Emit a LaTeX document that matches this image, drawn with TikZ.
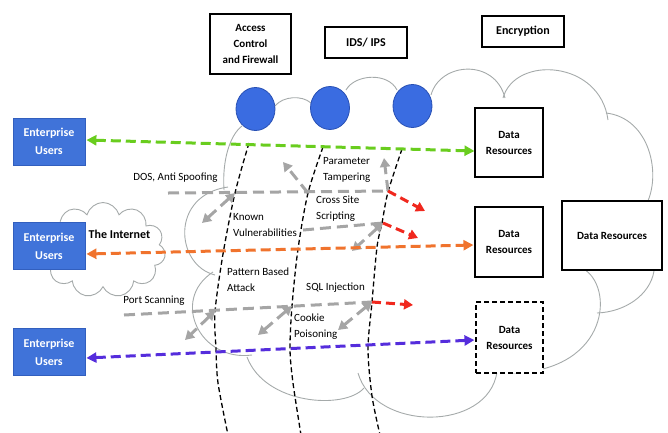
\documentclass[tikz,border=0pt]{standalone}
\usepackage{fontspec}
\setmainfont{Carlito}
\usetikzlibrary{arrows.meta,calc,shapes.symbols,shapes.geometric}
\definecolor{entblue}{RGB}{64,115,217}
\definecolor{entedge}{RGB}{50,95,190}
\definecolor{circblue}{RGB}{58,108,225}
\definecolor{circedge}{RGB}{40,80,180}
\definecolor{cloudgray}{RGB}{165,170,170}
\definecolor{arrgray}{RGB}{165,165,165}
\definecolor{arrgreen}{RGB}{105,205,30}
\definecolor{arrorange}{RGB}{240,115,45}
\definecolor{arrpurple}{RGB}{85,45,220}
\definecolor{arrred}{RGB}{240,40,30}
\begin{document}
\begin{tikzpicture}[x=1pt,y=-1pt,
  entbox/.style={draw=entedge, fill=entblue, text=white, line width=0.8pt,
    font=\fontsize{12}{18}\selectfont\bfseries, align=center,
    minimum width=72pt, minimum height=47pt, inner sep=0pt},
  databox/.style={draw, line width=1.1pt, fill=white,
    font=\fontsize{11}{16}\selectfont\bfseries, align=center, inner sep=0pt},
  topbox/.style={draw, line width=1.1pt, fill=white, align=center, inner sep=0pt},
  fw/.style={draw=circedge, fill=circblue, ellipse, line width=0.8pt,
    minimum width=39pt, minimum height=43pt, inner sep=0pt},
  cloudline/.style={draw=cloudgray, line width=0.9pt},
  lbl/.style={font=\fontsize{11}{16}\selectfont, align=left, inner sep=0pt},
  zone/.style={draw=black, line width=1.3pt, dash pattern=on 5pt off 3pt},
  gray arrow/.style={draw=arrgray, line width=3pt, dash pattern=on 11pt off 6pt,
    -{Triangle[length=9pt,width=10pt]}},
  gray line/.style={draw=arrgray, line width=3pt, dash pattern=on 11pt off 6pt},
  red arrow/.style={draw=arrred, line width=3pt, dash pattern=on 9pt off 5pt,
    -{Triangle[length=9pt,width=10pt]}},
  flow/.style={line width=3pt, dash pattern=on 10pt off 5pt,
    {Triangle[length=10pt,width=10pt]}-{Triangle[length=10pt,width=10pt]}}
]
\useasboundingbox (0,0) rectangle (668,432);

% ---- big cloud
\draw[cloudline] (275,106) .. controls (283,96) and (302,95) .. (311,103);
\draw[cloudline] (346,90) .. controls (355,74) and (388,72) .. (397,90);
\draw[cloudline] (431,95) .. controls (440,62) and (495,58) .. (505,98);
\draw[cloudline] (503,98) .. controls (515,55) and (600,60) .. (608,120);
\draw[cloudline] (606,113) .. controls (650,118) and (662,175) .. (646,205);
\draw[cloudline] (654,271) .. controls (650,295) and (625,312) .. (597,313);
\draw[cloudline] (582,268) .. controls (615,285) and (610,370) .. (513,373);
\draw[cloudline] (497,372) .. controls (488,432) and (375,432) .. (358,373);
\draw[cloudline] (364,388) .. controls (345,410) and (265,405) .. (247,357);
\draw[cloudline] (252,355) .. controls (200,362) and (170,300) .. (213,272);
\draw[cloudline] (215,275) .. controls (175,265) and (170,195) .. (228,187);
\draw[cloudline] (224,190) .. controls (222,160) and (230,135) .. (242,126);

% ---- internet cloud
\node[cloud, cloud puffs=11, cloudline, minimum width=125pt, minimum height=95pt] (inet) at (103,250) {};

% ---- zone lines
\draw[zone] plot[smooth] coordinates {(249,143) (235,193) (223,254) (215,312) (216,349) (218,383) (228,435)};
\draw[zone] plot[smooth] coordinates {(323,147) (308,193) (298,249) (292,306) (290,349) (293,383) (301,435)};
\draw[zone] plot[smooth] coordinates {(402,149) (388,192) (382,223) (377,247) (372,302) (368,349) (372,396) (380,435)};

% ---- top boxes and firewall points
\node[topbox, minimum width=81pt, minimum height=60pt, font=\fontsize{11}{16}\selectfont\bfseries] (acf) at (250.5,44) {Access\\Control\\and Firewall};
\node[topbox, minimum width=82pt, minimum height=31pt, font=\fontsize{12}{16}\selectfont\bfseries] (ids) at (366,42.5) {IDS/ IPS};
\node[topbox, minimum width=82pt, minimum height=31pt, font=\fontsize{12}{16}\selectfont\bfseries] (enc) at (523,31.5) {Encryption};
\node[fw] (c1) at (255.5,109) {};
\node[fw] (c2) at (330,108) {};
\node[fw] (c3) at (412.5,106) {};

% ---- users and data
\node[entbox] (eu1) at (49,141.5) {Enterprise\\Users};
\node[entbox] (eu2) at (49,246) {Enterprise\\Users};
\node[entbox] (eu3) at (49,352) {Enterprise\\Users};
\node[databox, minimum width=68pt, minimum height=69pt] (dr1) at (509,142.5) {Data\\Resources};
\node[databox, minimum width=68pt, minimum height=70pt] (dr2) at (509,242) {Data\\Resources};
\node[databox, minimum width=67pt, minimum height=71pt, dash pattern=on 5pt off 3pt] (dr3) at (509.5,337.5) {Data\\Resources};
\node[databox, minimum width=100pt, minimum height=69pt] (dr4) at (612,235.5) {Data Resources};

\node[font=\fontsize{12}{16}\selectfont\bfseries, inner sep=0pt] (inettxt) at (119.5,234) {The Internet};

% ---- attack labels
\node[lbl] (dos) at (175.5,178) {DOS, Anti Spoofing};
\node[lbl, anchor=west] (pt) at (323,170) {Parameter\\Tampering};
\node[lbl, anchor=west] (xss) at (316,209) {Cross Site\\Scripting};
\node[lbl, anchor=west] (kv) at (233,225) {Known\\Vulnerabilities};
\node[lbl, anchor=west] (pba) at (227,280) {Pattern Based\\Attack};
\node[lbl] (sql) at (335.5,288) {SQL Injection};
\node[lbl] (ps) at (154,301) {Port Scanning};
\node[lbl, anchor=west] (cp) at (294,327) {Cookie\\Poisoning};

% ---- attack arrows
\coordinate (a0) at (168,193);
\coordinate (a1) at (235,193);
\coordinate (a2) at (308,193);
\coordinate (a3) at (388,191);
\coordinate (a1t) at (202,223);
\coordinate (a2t) at (283,162);
\coordinate (a3t) at (384,158);
\coordinate (a3r) at (425,211);
\draw[gray line] (a0) -- (a3);
\draw[gray arrow, {Triangle[length=9pt,width=10pt]}-{Triangle[length=9pt,width=10pt]}] (a1) -- (a1t);
\draw[gray arrow] (a2) -- (a2t);
\draw[gray arrow] (a3) -- (a3t);
\draw[red arrow] (a3) -- (a3r);

\coordinate (b0) at (303,230);
\coordinate (b1) at (383,223);
\coordinate (b1t) at (352,251);
\coordinate (b1r) at (418,238);
\draw[gray line] (b0) -- (b1);
\draw[gray arrow, {Triangle[length=9pt,width=10pt]}-{Triangle[length=9pt,width=10pt]}] (b1) -- (b1t);
\draw[red arrow] (b1) -- (b1r);

\coordinate (p0) at (124,315);
\coordinate (p1) at (215,311);
\coordinate (p2) at (292,306);
\coordinate (p3) at (372,302);
\coordinate (p1t) at (185,340);
\coordinate (p2t) at (258,335);
\coordinate (p3t) at (338,330);
\coordinate (p3r) at (413,305);
\draw[gray line] (p0) -- (p3);
\draw[gray arrow, {Triangle[length=9pt,width=10pt]}-{Triangle[length=9pt,width=10pt]}] (p1) -- (p1t);
\draw[gray arrow, {Triangle[length=9pt,width=10pt]}-{Triangle[length=9pt,width=10pt]}] (p2) -- (p2t);
\draw[gray arrow, {Triangle[length=9pt,width=10pt]}-{Triangle[length=9pt,width=10pt]}] (p3) -- (p3t);
\draw[red arrow] (p3) -- (p3r);

% ---- user flows
\draw[flow, arrgreen] ($(eu1.east)+(1,-1.5)$) -- ($(dr1.west)+(0,8.5)$);
\draw[flow, arrorange] ($(eu2.east)+(1,8)$) -- ($(dr2.west)+(-1,3)$);
\draw[flow, arrpurple] ($(eu3.east)+(1,6)$) -- ($(dr3.west)+(-1,2.5)$);
\end{tikzpicture}
\end{document}
